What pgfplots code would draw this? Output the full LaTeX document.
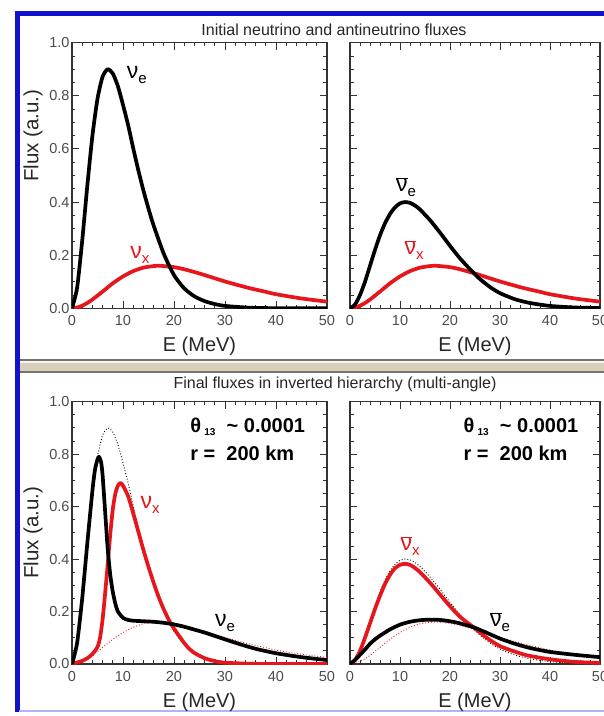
\documentclass[border=0pt]{standalone}
\usepackage{fontspec}
\setmainfont{Liberation Sans}
\usepackage{pgfplots}
\pgfplotsset{compat=1.18}
\usepackage{pgfplotstable}
\definecolor{fred}{RGB}{230,22,28}
\definecolor{fblue}{RGB}{18,18,205}
\definecolor{septan}{RGB}{216,208,186}

% initial nu_e
\pgfplotstableread{
E y
0 0
1 0.077
2 0.254
3 0.461
4 0.649
5 0.789
6 0.872
7 0.900
8 0.884
9 0.836
10 0.766
11 0.690
12 0.603
13 0.520
14 0.444
15 0.375
16 0.312
18 0.205
20 0.125
22 0.075
24 0.045
26 0.027
28 0.016
30 0.009
35 0.002
40 0.0005
50 0
}\nueinit
% initial nu_x (and anti nu_x)
\pgfplotstableread{
E y
0 0
1 0.003
2 0.0097
3 0.020
4 0.033
6 0.063
8 0.094
10 0.120
12 0.140
14 0.153
16 0.159
17 0.160
18 0.159
20 0.155
22 0.147
25 0.131
28 0.113
30 0.101
33 0.085
35 0.075
38 0.062
40 0.053
45 0.037
50 0.025
}\nuxinit
% initial anti nu_e
\pgfplotstableread{
E y
0 0
1 0.014
2 0.050
3 0.100
4 0.160
5 0.220
6 0.275
7 0.320
8 0.355
9 0.380
10 0.395
11 0.400
12 0.397
13 0.387
14 0.372
16 0.332
18 0.285
20 0.235
22 0.188
24 0.147
26 0.110
28 0.080
30 0.057
33 0.034
36 0.020
40 0.009
45 0.003
50 0.001
}\anueinit
% final nu_e
\pgfplotstableread{
E y
0 0
1 0.080
2 0.250
3 0.460
4 0.660
4.5 0.740
5 0.780
5.3 0.790
5.7 0.770
6 0.720
6.5 0.580
7 0.440
7.5 0.340
8 0.275
8.5 0.230
9 0.200
10 0.176
11 0.168
12 0.165
14 0.163
16 0.161
18 0.157
20 0.151
22 0.142
24 0.131
26 0.120
28 0.107
30 0.094
33 0.075
36 0.058
40 0.041
45 0.026
50 0.015
}\nuefin
% final nu_x
\pgfplotstableread{
E y
0 0
2 0.012
3 0.022
4 0.038
5 0.065
5.5 0.100
6 0.170
6.5 0.270
7 0.380
7.5 0.495
8 0.590
8.5 0.650
9 0.680
9.5 0.690
10 0.680
11 0.640
12 0.575
13 0.505
14 0.435
15 0.370
16 0.310
17 0.255
18 0.208
19 0.168
20 0.135
22 0.080
23 0.058
24 0.042
26 0.022
28 0.011
30 0.005
35 0.001
40 0
50 0
}\nuxfin
% final anti nu_e
\pgfplotstableread{
E y
0 0
1 0.015
2 0.035
3 0.055
4 0.077
5 0.094
6 0.108
7 0.120
8 0.132
10 0.150
12 0.161
14 0.167
16 0.169
18 0.168
20 0.163
22 0.155
24.7 0.140
27 0.122
30 0.097
33 0.077
36 0.061
40 0.046
45 0.035
50 0.026
}\anuefin
% final anti nu_x
\pgfplotstableread{
E y
0 0
1 0.015
2 0.050
3 0.100
4 0.155
5 0.210
6 0.260
7 0.305
8 0.340
9 0.365
10 0.378
11 0.382
12 0.378
13 0.366
14 0.350
16 0.310
18 0.265
20 0.220
22 0.180
24.7 0.140
27 0.105
30 0.068
35 0.035
40 0.018
45 0.008
50 0.004
}\anuxfin

\newcommand{\lab}[2]{{\fontsize{23}{23}\selectfont #1}\raisebox{-5pt}{\fontsize{15}{15}\selectfont #2}}
\newcommand{\nub}{\ensuremath{\overline{\hbox{ν}}}}

\pgfplotsset{
 myax/.style={
  scale only axis,
  xmin=0, xmax=50, ymin=0, ymax=1,
  xtick={0,10,20,30,40,50}, ytick={0,0.2,0.4,0.6,0.8,1.0},
  minor x tick num=4, minor y tick num=3,
  tick align=inside,
  major tick length=7pt, minor tick length=3.5pt,
  axis line style={black!80, line width=1.1pt},
  every tick/.style={black!80, line width=0.9pt},
  tick label style={font=\fontsize{14.5}{14.5}\selectfont, text=black!70},
  /pgf/number format/assume math mode=true,
  xticklabel style={yshift=-4pt},
  yticklabel={\pgfmathprintnumber[fixed,fixed zerofill,precision=1]{\tick}},
  yticklabel style={xshift=1pt},
  xlabel={E (MeV)},
  xlabel style={font=\fontsize{20}{20}\selectfont, text=black!85, at={(axis description cs:0.5,0)}, anchor=center, yshift=-38pt},
  ylabel style={font=\fontsize{20.5}{20.5}\selectfont, text=black!85},
  clip=true,
  every axis plot/.append style={line join=round, smooth, tension=0.4},
 },
 fat/.style={line width=3.7pt},
 thin dotted/.style={line width=0.9pt, dotted},
}

\begin{document}
\begin{tikzpicture}
\path[use as bounding box] (0pt,0pt) rectangle (604pt,716pt);
\clip (0pt,0pt) rectangle (604pt,716pt);
\fill[white] (0pt,0pt) rectangle (604pt,716pt);
% frame
\draw[fblue, line width=4.5pt] (17.5pt,4pt) -- (17.5pt,702.5pt) -- (610pt,702.5pt);
\draw[blue!30, line width=2.5pt] (19pt,5pt) -- (610pt,5pt);
% separator
\fill[septan] (20pt,344pt) rectangle (610pt,356pt);
\fill[white!80!septan] (20pt,353pt) rectangle (610pt,356pt);
\draw[black!55, line width=1.3pt] (20pt,356pt) -- (610pt,356pt);
\draw[black!55, line width=1.3pt] (20pt,344pt) -- (610pt,344pt);
% titles
\node[font=\fontsize{16}{16}\selectfont, text=black!85] at (334pt,686pt) {Initial neutrino and antineutrino fluxes};
\node[font=\fontsize{16}{16}\selectfont, text=black!85] at (335pt,332pt) {Final fluxes in inverted hierarchy (multi-angle)};

% top-left
\begin{axis}[myax, at={(72pt,407.7pt)}, anchor=south west, width=255pt, height=265.6pt,
  ylabel={Flux (a.u.)}, ylabel style={at={(axis description cs:-0.153,0.65)}, anchor=center}]
\addplot[fred, fat] table[x=E,y=y] {\nuxinit};
\addplot[black, fat] table[x=E,y=y] {\nueinit};
\node at (axis cs:12.7,0.88) {\lab{ν}{e}};
\node[text=fred] at (axis cs:13.3,0.20) {\lab{ν}{x}};
\end{axis}

% top-right
\begin{axis}[myax, at={(350pt,407.7pt)}, anchor=south west, width=250pt, height=265.6pt,
  yticklabels={}]
\addplot[fred, fat] table[x=E,y=y] {\nuxinit};
\addplot[black, fat] table[x=E,y=y] {\anueinit};
\node at (axis cs:11.2,0.457) {\lab{\nub}{e}};
\node[text=fred] at (axis cs:12.8,0.22) {\lab{\nub}{x}};
\end{axis}

% bottom-left
\begin{axis}[myax, at={(72pt,52pt)}, anchor=south west, width=255pt, height=262.3pt,
  ylabel={Flux (a.u.)}, ylabel style={at={(axis description cs:-0.153,0.5)}, anchor=center}]
\addplot[black, thin dotted] table[x=E,y=y] {\nueinit};
\addplot[fred, thin dotted] table[x=E,y=y] {\nuxinit};
\addplot[fred, fat] table[x=E,y=y] {\nuxfin};
\addplot[black, fat] table[x=E,y=y] {\nuefin};
\node[text=fred] at (axis cs:15.3,0.606) {\lab{ν}{x}};
\node at (axis cs:30,0.156) {\lab{ν}{e}};
\node[anchor=west, font=\fontsize{20}{20}\selectfont\bfseries] at (axis cs:22.5,0.904) {θ\,\raisebox{-3pt}{\fontsize{10}{10}\selectfont 13}\ \ \textasciitilde\ 0.0001};
\node[anchor=west, font=\fontsize{20}{20}\selectfont\bfseries] at (axis cs:22.5,0.804) {r\ =\ \ 200 km};
\end{axis}

% bottom-right
\begin{axis}[myax, at={(350pt,52pt)}, anchor=south west, width=250pt, height=262.3pt,
  yticklabels={}]
\addplot[black, thin dotted] table[x=E,y=y] {\anueinit};
\addplot[fred, thin dotted] table[x=E,y=y] {\nuxinit};
\addplot[fred, fat] table[x=E,y=y] {\anuxfin};
\addplot[black, fat] table[x=E,y=y] {\anuefin};
\node[text=fred] at (axis cs:12,0.45) {\lab{\nub}{x}};
\node at (axis cs:30,0.16) {\lab{\nub}{e}};
\node[anchor=west, font=\fontsize{20}{20}\selectfont\bfseries] at (axis cs:22,0.904) {θ\,\raisebox{-3pt}{\fontsize{10}{10}\selectfont 13}\ \ \textasciitilde\ 0.0001};
\node[anchor=west, font=\fontsize{20}{20}\selectfont\bfseries] at (axis cs:22,0.804) {r\ =\ \ 200 km};
\end{axis}
\end{tikzpicture}
\end{document}
